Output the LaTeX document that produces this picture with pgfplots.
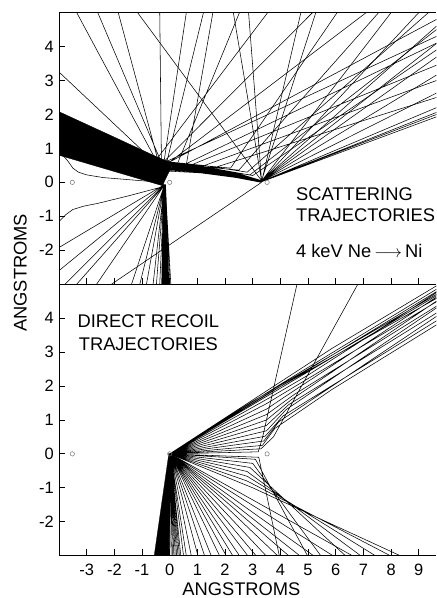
\documentclass[border=0pt]{standalone}
\usepackage{fontspec}
\setmainfont{Liberation Sans}
\usepackage{pgfplots}
\pgfplotsset{compat=1.18}
\begin{document}
\begin{tikzpicture}[font=\fontsize{18.4}{22}\selectfont]
\pgfplotsset{
 panel/.style={
  scale only axis, x=27.8pt, y=34.1pt,
  xmin=-4, xmax=9.64, ymin=-3, ymax=5,
  axis y line*=left, axis x line*=box,
  xtick={-3,...,9}, ytick={-2,...,4},
  xtick pos=left, ytick pos=left,
  tick align=inside, major tick length=6.5pt,
  every tick/.style={black, line width=0.8pt},
  axis line style={black, line width=0.9pt},
  tick label style={font=\fontsize{16.5}{18}\selectfont},
  xticklabel style={inner sep=0pt, yshift=-8.3pt},
  yticklabel style={inner sep=0pt, xshift=-5pt},
  /pgf/number format/assume math mode=true,
  unbounded coords=jump,
  clip mode=individual,
 },
 traj/.style={black, line width=0.55pt, mark=none},
 atom/.style={only marks, mark=o, mark size=2.2pt, mark options={draw=black!55, line width=0.5pt}},
}
% ---------------- bottom panel: direct recoil ----------------
\begin{axis}[panel, at={(0,0)}, anchor=south west]
\addplot[fill=black, draw=black, line width=0.3pt] coordinates {(-0.03,0.02) (0.05,-0.05) (-0.02,-3) (-0.56,-3)} -- cycle;
% direct recoils to the bottom
\addplot[traj] coordinates {
(0,0) (-0.1,-3) (nan,nan)
(0.02,0) (-0.02,-3) (nan,nan)
(0.02,0) (0.05,-3) (nan,nan)
(0.02,0) (0.1,-3) (nan,nan)
(0.02,0) (0.15,-3) (nan,nan)
(0.02,0) (0.2,-3) (nan,nan)
(0.02,0) (0.25,-3) (nan,nan)
(0.02,0) (0.3,-3) (nan,nan)
(0.03,0) (0.35,-3) (nan,nan)
(0.03,0) (0.4,-3) (nan,nan)
(0.03,0) (0.5,-3) (nan,nan)
(0.03,0) (0.6,-3) (nan,nan)
(0.03,0) (0.78,-3) (nan,nan)
(0.03,0) (1.02,-3) (nan,nan)
(0.03,0) (1.26,-3) (nan,nan)
(0.03,0) (1.5,-3) (nan,nan)
(0.03,0) (1.8,-3) (nan,nan)
(0.03,0) (2.04,-3) (nan,nan)
(0.03,0) (2.28,-3) (nan,nan)
(0.03,0) (2.52,-3) (nan,nan)
(0.03,0) (2.82,-3) (nan,nan)
(0.03,0) (3.12,-3) (nan,nan)
(0.03,0) (3.48,-3) (nan,nan)
(0.03,0) (3.9,-3) (nan,nan)
(0.03,0) (4.3,-3) (nan,nan)
(0.03,0) (4.7,-3) (nan,nan)
(0.03,0) (5.2,-3) (nan,nan)
(0.03,0) (5.9,-3) (nan,nan)
(0.03,0) (6.6,-3)
};
% recoils deflected downward by the second atom
\addplot[traj] coordinates {
(0,0) (3.22,-0.1) (3.96,-3) (nan,nan)
(0,0) (3.1,-0.16) (4.98,-3) (nan,nan)
(0,0) (3.0,-0.28) (5.46,-3) (nan,nan)
(0,0) (2.9,-0.4) (6.35,-3) (nan,nan)
(0,0) (2.8,-0.52) (6.9,-3) (nan,nan)
(0,0) (2.8,-0.66) (7.43,-3) (nan,nan)
(0,0) (2.8,-0.8) (7.97,-3) (nan,nan)
(0,0) (3.0,-1.0) (8.33,-3)
};
% recoils deflected upward by the second atom
\addplot[traj] coordinates {
(0,0) (3.2,0.06) (3.36,0.5) (4.6,5) (nan,nan)
(0,0) (3.3,0.15) (3.75,0.5) (6.8,5) (nan,nan)
(0,0) (3.35,0.25) (3.8,0.75) (5.87,1.9) (9.64,3.8) (nan,nan)
(0,0) (3.4,0.38) (3.95,0.95) (9.64,4.05) (nan,nan)
(0,0) (3.45,0.52) (4.1,1.12) (9.64,3.92) (nan,nan)
(0,0) (3.5,0.68) (4.2,1.3) (9.64,4.3) (nan,nan)
(0,0) (3.5,0.84) (4.3,1.45) (9.64,4.15) (nan,nan)
(0,0) (3.5,1.0) (4.4,1.6) (9.64,4.5) (nan,nan)
(0,0) (3.5,1.16) (4.5,1.75) (9.64,4.35) (nan,nan)
(0,0) (3.5,1.32) (4.6,1.92) (9.64,4.62) (nan,nan)
(0,0) (3.5,1.48) (4.8,2.12) (9.64,4.48) (nan,nan)
(0,0) (3.6,1.65) (5.0,2.32) (9.64,4.75) (nan,nan)
(0,0) (3.6,1.8) (9.64,4.58) (nan,nan)
(0,0) (4.0,2.05) (9.64,4.85) (nan,nan)
(0,0) (5.87,3.11) (9.64,4.95) (nan,nan)
(0,0) (3.0,1.55) (9.64,4.7) (nan,nan)
(0,0) (9.64,4.78) (nan,nan)
(0,0) (9.64,4.66)
};
\addplot[atom] coordinates {(-3.52,0) (0,0) (3.52,0)};
\node[anchor=base, inner sep=0pt] at (axis cs:-0.77,3.71) {DIRECT RECOIL};
\node[anchor=base, inner sep=0pt] at (axis cs:-0.77,3.06) {TRAJECTORIES};
\end{axis}
% ---------------- top panel: scattering ----------------
\begin{axis}[panel, at={(0,272.8pt)}, anchor=south west, xticklabels={}]
% incoming beam
\addplot[fill=black, draw=black, line width=0.4pt] coordinates {(-4,2.08) (-2,1.33) (-0.6,0.8) (-0.2,0.66) (0,0.61) (0.08,0.53) (0.06,0.42) (-0.03,0.3) (-0.12,0.15) (-0.2,0.02) (-0.25,-0.1) (-2,0.32) (-4,0.8)} -- cycle;
\addplot[traj] coordinates {(-4,0.86) (-3.85,0.78) (-3.7,0.65) (-3.5,0.42) (-3.3,0.3) (-3.0,0.22) (-2.4,0.14) (-1.2,0.06) (-0.3,0.0)};
% ions passing over the first atom toward the second
\addplot[traj] coordinates {
(0,0.6) (1.1,0.48) (2.4,0.28) (3.32,0.05) (nan,nan)
(0.02,0.58) (1.1,0.465) (2.4,0.27) (3.32,0.05) (nan,nan)
(0.05,0.56) (1.1,0.45) (2.4,0.26) (3.33,0.05) (nan,nan)
(0.06,0.54) (1.1,0.435) (2.4,0.25) (3.33,0.04) (nan,nan)
(0.08,0.52) (1.1,0.42) (2.4,0.24) (3.34,0.04) (nan,nan)
(0.08,0.5) (1.1,0.405) (2.4,0.23) (3.33,0.04) (nan,nan)
(0.08,0.48) (1.1,0.39) (2.4,0.22) (3.32,0.03) (nan,nan)
(0.07,0.46) (1.1,0.375) (2.4,0.21) (3.32,0.03) (nan,nan)
(0.06,0.44) (1.1,0.36) (2.4,0.2) (3.31,0.03) (nan,nan)
(0.05,0.42) (1.1,0.345) (2.4,0.19) (3.31,0.02) (nan,nan)
(0.03,0.4) (1.1,0.33) (2.4,0.18) (3.3,0.02) (nan,nan)
(0.02,0.38) (1.1,0.315) (2.4,0.17) (3.3,0.02) (nan,nan)
(0,0.36) (1.1,0.3) (2.4,0.16) (3.3,0.01) (nan,nan)
(-0.03,0.33) (1.1,0.28) (2.4,0.14) (3.3,0.0) (nan,nan)
(0.02,0.58) (1.1,0.5) (2.2,0.42) (6.05,5) (nan,nan)
(0.05,0.55) (1.2,0.46) (2.5,0.36) (7.55,5) (nan,nan)
(0,0.6) (1.2,0.5) (2.8,0.3) (9.35,5) (nan,nan)
(0.05,0.5) (1.4,0.4) (2.9,0.22) (9.64,4.5) (nan,nan)
(0,0.55) (1.5,0.42) (3.0,0.2) (9.64,3.9) (nan,nan)
(0.02,0.58) (0.8,0.52) (9.64,3.45) (nan,nan)
(0.04,0.56) (1.2,0.48) (9.64,3.0) (nan,nan)
(0.05,0.54) (1.6,0.43) (9.64,2.5) (nan,nan)
(0.03,0.57) (0.6,0.55) (9.64,4.1)
};
% scattered by the second atom
\addplot[traj] coordinates {
(3.32,0.05) (-1.16,5) (nan,nan)
(3.32,0.05) (2.3,5) (nan,nan)
(3.32,0.05) (2.85,5) (nan,nan)
(3.33,0.05) (4.74,5) (nan,nan)
(3.32,0.05) (5.28,5) (nan,nan)
(3.32,0.04) (8.0,5) (nan,nan)
(3.32,0.04) (9.0,5) (nan,nan)
(3.31,0.04) (9.64,4.6) (nan,nan)
(3.31,0.04) (9.64,4.09) (nan,nan)
(3.31,0.03) (9.64,3.69) (nan,nan)
(3.3,0.03) (9.64,3.16) (nan,nan)
(3.3,0.03) (9.64,2.63) (nan,nan)
(3.3,0.02) (9.64,2.2) (nan,nan)
(3.3,0.02) (9.64,2.06) (nan,nan)
(3.3,0.02) (9.64,2.0) (nan,nan)
(3.3,0.01) (9.64,1.93) (nan,nan)
(3.32,0.0) (-2.1,-3)
};
% backscattered by the first atom
\addplot[traj] coordinates {
(-0.42,0.5) (-4,3.25) (nan,nan)
(-0.56,0.75) (-3.36,5) (nan,nan)
(-0.35,0.68) (-2.6,5) (nan,nan)
(-0.44,0.7) (-1.86,5) (nan,nan)
(-0.3,0.66) (-0.36,5) (nan,nan)
(-0.2,0.64) (0.6,5) (nan,nan)
(-0.1,0.62) (1.22,5) (nan,nan)
(0.6,0.52) (1.56,5) (nan,nan)
(0.28,0.55) (2.52,5) (nan,nan)
(-0.5,0.65) (3.54,5) (nan,nan)
(-0.2,0.62) (5.16,5) (nan,nan)
(0,0.6) (7.1,5) (nan,nan)
(0,0.6) (9.64,4.8) (nan,nan)
(-0.1,0.62) (9.64,4.3)
};
% scattered downward
\addplot[fill=black, draw=none] coordinates {(-0.24,-0.06) (-0.14,-0.06) (-0.02,-3) (-0.3,-3)} -- cycle;
\addplot[traj] coordinates {
(-0.22,-0.08) (-4,-1.92) (nan,nan)
(-0.22,-0.08) (-4,-2.6) (nan,nan)
(-0.22,-0.1) (-3.78,-3) (nan,nan)
(-0.21,-0.1) (-3.36,-3) (nan,nan)
(-0.21,-0.1) (-2.64,-3) (nan,nan)
(-0.2,-0.1) (-1.38,-3) (nan,nan)
(-0.2,-0.1) (-1.08,-3) (nan,nan)
(-0.2,-0.1) (-0.84,-3) (nan,nan)
(-0.2,-0.1) (-0.6,-3) (nan,nan)
(-0.2,-0.1) (-0.48,-3) (nan,nan)
(-0.2,-0.1) (-0.36,-3) (nan,nan)
(-0.19,-0.1) (-0.24,-3) (nan,nan)
(-0.18,-0.1) (-0.12,-3) (nan,nan)
(-0.17,-0.1) (0,-3) (nan,nan)
(-0.16,-0.1) (0.04,-3) (nan,nan)
(-0.3,-0.14) (-1.5,-0.4) (-2.6,-0.62) (-3.1,-0.7) (-3.5,-0.8) (-3.75,-0.95) (-4,-1.15)
};
\addplot[atom] coordinates {(-3.52,0) (0,0) (3.52,0)};
\node[anchor=base west, inner sep=0pt] at (axis cs:4.56,-0.53) {SCATTERING};
\node[anchor=base west, inner sep=0pt] at (axis cs:4.56,-1.14) {TRAJECTORIES};
\node[anchor=base west, inner sep=0pt] at (axis cs:4.56,-2.22) {4 keV Ne\,$\longrightarrow$\,Ni};
\end{axis}
\node[rotate=90, anchor=base, inner sep=0pt] at (-32.6pt,284.2pt) {ANGSTROMS};
\node[anchor=base, inner sep=0pt] at (183.2pt,-39.6pt) {ANGSTROMS};
\pgfresetboundingbox
\path[use as bounding box] (-59.3pt,-42.5pt) rectangle (379.2pt,558.3pt);
\end{tikzpicture}
\end{document}
